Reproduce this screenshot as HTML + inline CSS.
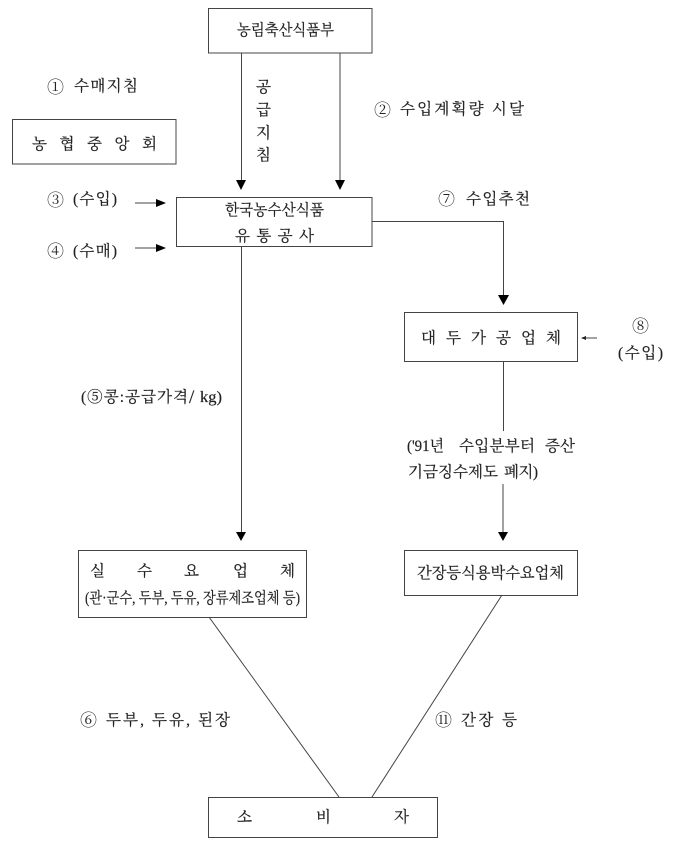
<!DOCTYPE html>
<html lang="ko"><head><meta charset="utf-8"><style>
html,body{margin:0;padding:0;background:#fff}
svg{display:block}
text{font-family:"Liberation Serif","Noto Serif CJK SC","Noto Serif CJK KR",serif;font-size:15.5px;fill:#222;stroke:#222;stroke-width:.2}
text.c{font-size:17px;stroke-width:0}
rect,line,path.l{fill:none;stroke:#444;stroke-width:1}
polygon{fill:#000}
</style></head><body>
<svg width="680" height="852" viewBox="0 0 680 852" xmlns="http://www.w3.org/2000/svg">
<rect x="208.5" y="8.5" width="163.5" height="44.5"/>
<rect x="12.5" y="119.5" width="163.5" height="44.5"/>
<rect x="176.5" y="197.5" width="195.5" height="49"/>
<rect x="404.5" y="312.5" width="173" height="49"/>
<rect x="78.5" y="550.5" width="228" height="67"/>
<rect x="404.5" y="550.5" width="173" height="45"/>
<rect x="208.5" y="797.5" width="229" height="40"/>

<line x1="241.5" y1="53" x2="241.5" y2="181"/><polygon points="236,180 246,180 241,190"/>
<line x1="340" y1="53" x2="340" y2="181"/><polygon points="335,180 345,180 340,190"/>
<line x1="241.5" y1="246" x2="241.5" y2="533"/><polygon points="236,532 246,532 241,541"/>
<path class="l" d="M372 221.5H503.5V296"/><polygon points="498,295 509,295 503.5,305"/>
<line x1="503.5" y1="361" x2="503.5" y2="431"/>
<line x1="503" y1="484" x2="503" y2="533"/><polygon points="498,532 508,532 503,541"/>
<line x1="135" y1="203" x2="158" y2="203"/><polygon points="156,199 166,203 156,207"/>
<line x1="135" y1="248" x2="158" y2="248"/><polygon points="156,244 166,248 156,252"/>
<line x1="582" y1="338" x2="597" y2="338"/><path d="M586 336L581 338L586 340Z" fill="#222"/>
<line x1="209" y1="617" x2="339" y2="797"/>
<line x1="502" y1="595" x2="372" y2="797"/>

<text x="237" y="35" textLength="97" lengthAdjust="spacingAndGlyphs">농림축산식품부</text>
<text class="c" x="47" y="93">①</text><text x="74" y="91" textLength="64" lengthAdjust="spacing">수매지침</text>
<text x="32" y="149" textLength="125" lengthAdjust="spacing">농 협 중 앙 회</text>
<text x="256" y="92">공</text><text x="256" y="115">급</text><text x="256" y="138">지</text><text x="256" y="160">침</text>
<text class="c" x="374" y="116">②</text><text x="400" y="114" textLength="124" lengthAdjust="spacing">수입계획량 시달</text>
<text class="c" x="47" y="206">③</text><text x="73" y="204" textLength="44" lengthAdjust="spacing">(수입)</text>
<text class="c" x="47" y="257">④</text><text x="73" y="256" textLength="44" lengthAdjust="spacing">(수매)</text>
<text x="225" y="215" textLength="99" lengthAdjust="spacingAndGlyphs">한국농수산식품</text>
<text x="235" y="241" textLength="79" lengthAdjust="spacing">유 통 공 사</text>
<text class="c" x="438" y="205">⑦</text><text x="466" y="204" textLength="64" lengthAdjust="spacing">수입추천</text>
<text x="421" y="343" textLength="140" lengthAdjust="spacing">대 두 가 공 업 체</text>
<text class="c" x="632" y="332">⑧</text><text x="618" y="358" textLength="45" lengthAdjust="spacing">(수입)</text>
<text x="81" y="402" textLength="107" lengthAdjust="spacing">(⑤콩:공급가격</text>
<text x="189" y="403" style="font-size:19px">/</text>
<text x="200" y="402" textLength="22" lengthAdjust="spacingAndGlyphs">kg)</text>
<text x="407" y="451" textLength="37" lengthAdjust="spacingAndGlyphs">('91년</text>
<text x="459" y="451" textLength="76" lengthAdjust="spacing">수입분부터</text>
<text x="545" y="451" textLength="30" lengthAdjust="spacing">증산</text>
<text x="408" y="477" textLength="90" lengthAdjust="spacing">기금징수제도</text>
<text x="504" y="477" textLength="34" lengthAdjust="spacing">폐지)</text>
<text x="90" y="576">실</text><text x="137" y="576">수</text><text x="184" y="576">요</text><text x="233" y="576">업</text><text x="280" y="576">체</text>
<text x="85" y="603" textLength="215" lengthAdjust="spacingAndGlyphs">(관·군수, 두부, 두유, 장류제조업체 등)</text>
<text x="417" y="578" textLength="147" lengthAdjust="spacingAndGlyphs">간장등식용박수요업체</text>
<text class="c" x="80" y="726">⑥</text><text x="106" y="725" textLength="124" lengthAdjust="spacing">두부, 두유, 된장</text>
<text class="c" x="435" y="726">⑪</text><text x="461" y="725" textLength="56" lengthAdjust="spacing">간장 등</text>
<text x="237" y="822">소</text><text x="316" y="822">비</text><text x="394" y="822">자</text>
</svg>
</body></html>
